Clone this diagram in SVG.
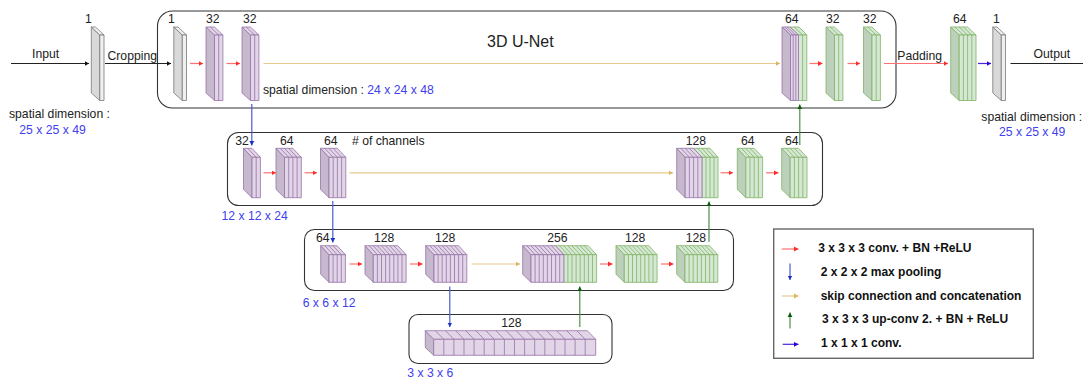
<svg xmlns="http://www.w3.org/2000/svg" width="1083" height="380" viewBox="0 0 1083 380">
<style>
text{font-family:"Liberation Sans",Arial,sans-serif;font-size:12.2px;fill:#222;stroke:none}
.blue{fill:#4040f0}
.title{font-size:16px}
.leg text{font-weight:bold;fill:#111;font-size:12px}
.box{fill:#fff;stroke:#333;stroke-width:1.1}
.legbox{fill:#fff;stroke:#666;stroke-width:1.4}
.p{stroke:#9673a6;stroke-width:.8;fill:#e1d5e7;--side:#c6b9ce}
.g{stroke:#82b366;stroke-width:.8;fill:#d5e8d4;--side:#bcd0bb}
.k{stroke:#777;stroke-width:.8;fill:#f0f0f0;--side:#d9d9d9}
.l{fill:var(--side)}
.c line{fill:none;stroke-width:1.2}
.red{stroke:#ff7070;marker-end:url(#mr)}
.tan{stroke:#e8c98a;marker-end:url(#mt)}
.dn{stroke:#4a5cd0;marker-end:url(#mb)}
.up{stroke:#4d8f4d;marker-end:url(#mg)}
.vio{stroke:#4a22e0;marker-end:url(#mv)}
.blk{stroke:#222;marker-end:url(#mk)}
.end{stroke:#222}
</style>
<defs>
<marker id="mr" markerUnits="userSpaceOnUse" markerWidth="6" markerHeight="6" refX="4.500" refY="3" orient="auto"><path d="M0 .6L4.500 3L0 5.400Z" fill="#ff2a2a"/></marker>
<marker id="mt" markerUnits="userSpaceOnUse" markerWidth="6" markerHeight="6" refX="4.500" refY="3" orient="auto"><path d="M0 .6L4.500 3L0 5.400Z" fill="#dcb45c"/></marker>
<marker id="mb" markerUnits="userSpaceOnUse" markerWidth="6" markerHeight="6" refX="4.500" refY="3" orient="auto"><path d="M0 .6L4.500 3L0 5.400Z" fill="#1a2fc8"/></marker>
<marker id="mg" markerUnits="userSpaceOnUse" markerWidth="6" markerHeight="6" refX="4.500" refY="3" orient="auto"><path d="M0 .6L4.500 3L0 5.400Z" fill="#0d5c0d"/></marker>
<marker id="mv" markerUnits="userSpaceOnUse" markerWidth="6" markerHeight="6" refX="4.500" refY="3" orient="auto"><path d="M0 .6L4.500 3L0 5.400Z" fill="#2a00d8"/></marker>
<marker id="mk" markerUnits="userSpaceOnUse" markerWidth="6" markerHeight="6" refX="4.500" refY="3" orient="auto"><path d="M0 .6L4.500 3L0 5.400Z" fill="#111"/></marker>

<g id="r1one"><path class="l" d="M0 0L8.5 8V73.5L0 66Z"/><path d="M0 0H4.2L12.7 8H8.5Z"/><path d="M8.5 8h4.2v65.5h-4.2z"/></g>
<g id="r1two"><path class="l" d="M0 0L8.5 8V73.5L0 66Z"/><path d="M0 0H8.4L16.9 8H8.5ZM4.2 0L12.7 8"/><path d="M8.5 8h8.4v65.5h-8.4zM12.7 8v65.5"/></g>
<g id="r1four"><path class="l" d="M0 0L8.5 8V73.5L0 66Z"/><path d="M0 0H16.8L25.3 8H8.5ZM4.2 0L12.7 8M8.4 0L16.9 8M12.6 0L21.1 8"/><path d="M8.5 8h16.8v65.5h-16.8zM12.7 8v65.5M16.9 8v65.5M21.1 8v65.5"/></g>
<g id="r2two"><path class="l" d="M0 0L8.5 9V49.4L0 41Z"/><path d="M0 0H8.4L16.9 9H8.5ZM4.2 0L12.7 9"/><path d="M8.5 9h8.4v40.4h-8.4zM12.7 9v40.4"/></g>
<g id="r2four"><path class="l" d="M0 0L8.5 9V49.4L0 41Z"/><path d="M0 0H16.8L25.3 9H8.5ZM4.2 0L12.7 9M8.4 0L16.9 9M12.6 0L21.1 9"/><path d="M8.5 9h16.8v40.4h-16.8zM12.7 9v40.4M16.9 9v40.4M21.1 9v40.4"/></g>
<g id="r3four"><path class="l" d="M0 0L8.3 9V36.6L0 28.6Z"/><path d="M0 0H16.4L24.7 9H8.3ZM4.1 0L12.4 9M8.2 0L16.5 9M12.3 0L20.6 9"/><path d="M8.3 9h16.4v27.6h-16.4zM12.4 9v27.6M16.5 9v27.6M20.6 9v27.6"/></g>
<g id="r3eight"><path class="l" d="M0 0L8.3 9V36.6L0 28.6Z"/><path d="M0 0H32.8L41.1 9H8.3ZM4.1 0L12.4 9M8.2 0L16.5 9M12.3 0L20.6 9M16.4 0L24.7 9M20.5 0L28.8 9M24.6 0L32.9 9M28.7 0L37 9"/><path d="M8.3 9h32.8v27.6h-32.8zM12.4 9v27.6M16.5 9v27.6M20.6 9v27.6M24.7 9v27.6M28.8 9v27.6M32.9 9v27.6M37 9v27.6"/></g>
</defs>

<g id="containers">
<rect id="level1" class="box" x="157.500" y="11" width="738.500" height="97" rx="15"/>
<rect id="level2" class="box" x="227.500" y="132.500" width="595" height="73" rx="11"/>
<rect id="level3" class="box" x="304.500" y="229.500" width="429" height="61" rx="10"/>
<rect id="level4" class="box" x="409" y="314.500" width="203" height="49" rx="9"/>
</g>

<g id="n-input" class="k"><use href="#r1one" x="91.300" y="27"/><text x="85" y="23">1</text></g>
<g id="n-crop" class="k"><use href="#r1one" x="173.800" y="27"/><text x="168" y="23">1</text></g>
<g id="n-e1a" class="p"><use href="#r1two" x="206" y="27"/><text x="206" y="23">32</text></g>
<g id="n-e1b" class="p"><use href="#r1two" x="242" y="27"/><text x="243" y="23">32</text></g>
<g id="n-d1a"><g class="g"><path d="M790 27H799L807 35H798.500Z"/><path d="M798.500 35h8.300v65.500h-8.300zM802.600 35v65.500"/><path d="M794.200 27L802.700 35"/></g><g class="p"><path d="M782 27H790L798.500 35H790.500ZM784.700 27L793.200 35M787.300 27L795.800 35"/><path d="M790.500 35h8v65.500h-8zM793.200 35v65.500M795.800 35v65.500"/><path class="l" d="M782 27L790.500 35V100.500L782 93Z"/></g><text x="785" y="23">64</text></g>
<g id="n-d1b" class="g"><use href="#r1two" x="826" y="27"/><text x="826" y="23">32</text></g>
<g id="n-d1c" class="g"><use href="#r1two" x="863.500" y="27"/><text x="863" y="23">32</text></g>
<g id="n-pad" class="g"><use href="#r1four" x="950.700" y="27"/><text x="953" y="23">64</text></g>
<g id="n-out" class="k"><use href="#r1one" x="992.800" y="27"/><text x="993" y="23">1</text></g>

<g id="n-e2a" class="p"><use href="#r2two" x="243.500" y="148.300"/><text x="235.300" y="145">32</text></g>
<g id="n-e2b" class="p"><use href="#r2four" x="276" y="148.300"/><text x="280" y="145">64</text></g>
<g id="n-e2c" class="p"><use href="#r2four" x="320.500" y="148.300"/><text x="324" y="145">64</text></g>
<g id="n-d2a"><g class="g"><path d="M693.500 148.300H710L718 157.300H702Z M697.700 148.300L705.900 157.300M701.900 148.300L710 157.300M706 148.300L714 157.300"/><path d="M702 157.300h16v40.400h-16zM706 157.300v40.400M710 157.300v40.400M714 157.300v40.400"/></g><g class="p"><use href="#r2four" x="676.700" y="148.300"/></g><text x="685.700" y="145">128</text></g>
<g id="n-d2b" class="g"><use href="#r2four" x="737.300" y="148.300"/><text x="741" y="145">64</text></g>
<g id="n-d2c" class="g"><use href="#r2four" x="781.700" y="148.300"/><text x="785" y="145">64</text></g>

<g id="n-e3a" class="p"><use href="#r3four" x="320.700" y="245.700"/><text x="316" y="242">64</text></g>
<g id="n-e3b" class="p"><use href="#r3eight" x="365" y="245.700"/><text x="374" y="242">128</text></g>
<g id="n-e3c" class="p"><use href="#r3eight" x="425.700" y="245.700"/><text x="435" y="242">128</text></g>
<g id="n-d3a"><g class="g"><path d="M555.500 245.700H588.300L596.600 254.700H563.800ZM559.600 245.700L567.900 254.700M563.700 245.700L572 254.700M567.800 245.700L576.100 254.700M571.900 245.700L580.200 254.700M576 245.700L584.300 254.700M580.100 245.700L588.400 254.700M584.200 245.700L592.500 254.700"/><path d="M563.800 254.700h32.800v27.600h-32.800zM567.900 254.700v27.600M572 254.700v27.600M576.100 254.700v27.600M580.200 254.700v27.600M584.300 254.700v27.600M588.400 254.700v27.600M592.500 254.700v27.600"/></g><g class="p"><use href="#r3eight" x="522.700" y="245.700"/></g><text x="547.300" y="242">256</text></g>
<g id="n-d3b" class="g"><use href="#r3eight" x="616" y="245.700"/><text x="625" y="242">128</text></g>
<g id="n-d3c" class="g"><use href="#r3eight" x="676.700" y="245.700"/><text x="685.700" y="242">128</text></g>

<g id="n-bottom" class="p"><path class="l" d="M425.300 330.700L433.700 339.300V355.300L425.300 347.700Z"/><path d="M425.300 330.700H587.300L595.700 339.300H433.700ZM435.400 330.700L443.800 339.300M445.500 330.700L453.900 339.300M455.600 330.700L464 339.300M465.700 330.700L474.100 339.300M475.800 330.700L484.200 339.300M485.900 330.700L494.300 339.300M496 330.700L504.400 339.300M506.100 330.700L514.500 339.300M516.200 330.700L524.600 339.300M526.300 330.700L534.700 339.300M536.400 330.700L544.800 339.300M546.500 330.700L554.900 339.300M556.600 330.700L565 339.300M566.700 330.700L575.100 339.300M576.800 330.700L585.200 339.300"/><path d="M433.700 339.300h162v16h-162zM443.800 339.300v16M453.900 339.300v16M464 339.300v16M474.100 339.300v16M484.200 339.300v16M494.300 339.300v16M504.400 339.300v16M514.500 339.300v16M524.600 339.300v16M534.700 339.300v16M544.800 339.300v16M554.900 339.300v16M565 339.300v16M575.100 339.300v16M585.200 339.300v16"/><text x="501.300" y="326.700">128</text></g>

<g id="connectors" class="c">
<line class="blk" x1="11" y1="63.500" x2="89" y2="63.500"/>
<line class="blk" x1="105" y1="63.500" x2="171" y2="63.500"/>
<line class="red" x1="190" y1="63.500" x2="203" y2="63.500"/>
<line class="red" x1="226.500" y1="63.500" x2="240" y2="63.500"/>
<line class="tan" x1="263.500" y1="63.500" x2="780" y2="63.500"/>
<line class="red" x1="809.500" y1="63.500" x2="822.500" y2="63.500"/>
<line class="red" x1="847.500" y1="63.500" x2="860" y2="63.500"/>
<line class="red" x1="884" y1="63.500" x2="948" y2="63.500"/>
<line class="vio" x1="978" y1="63.500" x2="991" y2="63.500"/>
<line class="end" x1="1010.500" y1="63.500" x2="1083" y2="63.500"/>
<line class="dn" x1="251.800" y1="104" x2="251.800" y2="145.500"/>
<line class="up" x1="799.800" y1="145" x2="799.800" y2="104.500"/>
<line class="red" x1="263.500" y1="172.800" x2="276" y2="172.800"/>
<line class="red" x1="304.500" y1="172.800" x2="317" y2="172.800"/>
<line class="tan" x1="349.500" y1="172.800" x2="673" y2="172.800"/>
<line class="red" x1="720.500" y1="172.800" x2="733" y2="172.800"/>
<line class="red" x1="766" y1="172.800" x2="778.500" y2="172.800"/>
<line class="dn" x1="332.800" y1="201" x2="332.800" y2="242.500"/>
<line class="up" x1="709" y1="242" x2="709" y2="201.500"/>
<line class="red" x1="349.500" y1="264" x2="362" y2="264"/>
<line class="red" x1="410" y1="264" x2="422.500" y2="264"/>
<line class="tan" x1="471.500" y1="264" x2="520" y2="264"/>
<line class="red" x1="600" y1="264" x2="612.500" y2="264"/>
<line class="red" x1="661" y1="264" x2="673.500" y2="264"/>
<line class="dn" x1="449.800" y1="286.500" x2="449.800" y2="327"/>
<line class="up" x1="579.800" y1="327" x2="579.800" y2="286.500"/>
</g>

<g id="labels">
<text x="32" y="58">Input</text>
<text x="107.500" y="60">Cropping</text>
<text x="9" y="117.500">spatial dimension :</text>
<text class="blue" x="19.300" y="133.500">25 x 25 x 49</text>
<text x="487" y="47" class="title">3D U-Net</text>
<text x="263" y="94">spatial dimension : <tspan class="blue">24 x 24 x 48</tspan></text>
<text x="897.300" y="60">Padding</text>
<text x="1033.500" y="58">Output</text>
<text x="981.300" y="120.500">spatial dimension :</text>
<text class="blue" x="999" y="135.500">25 x 25 x 49</text>
<text x="352" y="145"># of channels</text>
<text class="blue" x="221.500" y="219.500">12 x 12 x 24</text>
<text class="blue" x="302.700" y="307">6 x 6 x 12</text>
<text class="blue" x="407.300" y="377">3 x 3 x 6</text>
</g>

<g id="legend" class="leg c">
<rect class="legbox" x="773.700" y="229" width="259.600" height="129.300"/>
<line class="red" x1="781.700" y1="249" x2="798.500" y2="249"/>
<line class="dn" x1="790" y1="263.500" x2="790" y2="280"/>
<line class="tan" x1="782" y1="296" x2="798.500" y2="296"/>
<line class="up" x1="790" y1="328.500" x2="790" y2="312.500"/>
<line class="vio" x1="782.700" y1="344.300" x2="798.500" y2="344.300"/>
<text x="818.300" y="251.500">3 x 3 x 3 conv. + BN +ReLU</text>
<text x="820.700" y="276">2 x 2 x 2 max pooling</text>
<text x="820.700" y="299.500">skip connection and concatenation</text>
<text x="822" y="323">3 x 3 x 3 up-conv 2. + BN + ReLU</text>
<text x="821" y="346.700">1 x 1 x 1 conv.</text>
</g>
</svg>
